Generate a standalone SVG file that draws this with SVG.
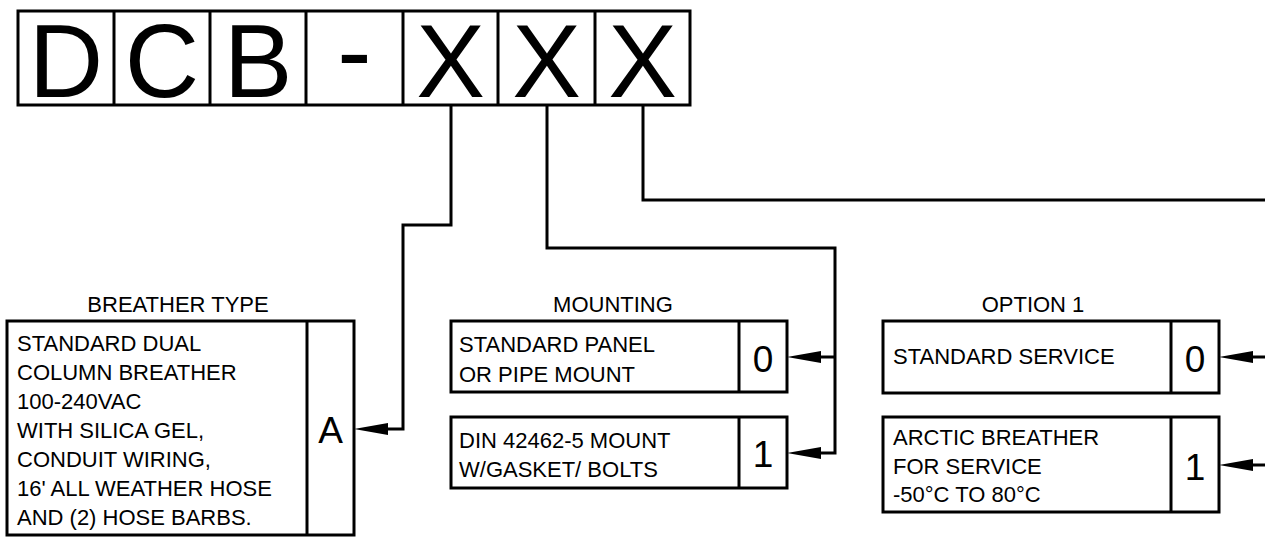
<svg xmlns="http://www.w3.org/2000/svg" xmlns:xlink="http://www.w3.org/1999/xlink" width="1265" height="537" viewBox="0 0 1265 537">
<style>
.box{fill:#fff;stroke:#000;stroke-width:3}
.div{stroke:#000;stroke-width:3}
.conn{fill:none;stroke:#000;stroke-width:3;stroke-linejoin:miter}
text{font-family:"Liberation Sans",Arial,sans-serif;fill:#000}
.big{font-size:103px;text-anchor:middle}
.t{font-size:22px}
.lbl{font-size:22px;text-anchor:middle}
.code{font-size:37px;text-anchor:middle}
</style>
<defs>
<path id="ah" d="M0,0 L34,-6 L34,6 Z" fill="#000"/>
</defs>
<rect width="1265" height="537" fill="#fff"/>

<g id="partnumber">
<rect class="box" x="18" y="11" width="672" height="94"/>
<line class="div" x1="114" y1="11" x2="114" y2="105"/>
<line class="div" x1="210" y1="11" x2="210" y2="105"/>
<line class="div" x1="306" y1="11" x2="306" y2="105"/>
<line class="div" x1="403" y1="11" x2="403" y2="105"/>
<line class="div" x1="498" y1="11" x2="498" y2="105"/>
<line class="div" x1="595" y1="11" x2="595" y2="105"/>
<text class="big" x="66" y="97">D</text>
<text class="big" x="162" y="97">C</text>
<text class="big" x="258" y="97">B</text>
<text class="big" x="354.5" y="87">-</text>
<text class="big" x="450.5" y="97">X</text>
<text class="big" x="546.5" y="97">X</text>
<text class="big" x="642.5" y="97">X</text>
</g>

<g id="connectors">
<path class="conn" d="M451,105 V225 H403 V429 H370"/>
<use xlink:href="#ah" x="354" y="429"/>
<path class="conn" d="M547,105 V248 H835 V453 H805"/>
<path class="conn" d="M835,357 H805"/>
<use xlink:href="#ah" x="787" y="357"/>
<use xlink:href="#ah" x="787" y="453"/>
<path class="conn" d="M643,105 V200 H1265"/>
<path class="conn" d="M1265,357 H1237"/>
<path class="conn" d="M1265,465 H1237"/>
<use xlink:href="#ah" x="1219" y="357"/>
<use xlink:href="#ah" x="1219" y="465"/>
</g>

<g id="breather-type">
<text class="lbl" x="178" y="312">BREATHER TYPE</text>
<rect class="box" x="7" y="321" width="347" height="214"/>
<line class="div" x1="307" y1="321" x2="307" y2="535"/>
<text class="t" x="17" y="351">STANDARD DUAL</text>
<text class="t" x="17" y="380">COLUMN BREATHER</text>
<text class="t" x="17" y="409">100-240VAC</text>
<text class="t" x="17" y="438">WITH SILICA GEL,</text>
<text class="t" x="17" y="467">CONDUIT WIRING,</text>
<text class="t" x="17" y="496">16' ALL WEATHER HOSE</text>
<text class="t" x="17" y="525">AND (2) HOSE BARBS.</text>
<text class="code" x="330.5" y="443">A</text>
</g>

<g id="mounting">
<text class="lbl" x="613" y="312">MOUNTING</text>
<g id="mounting-0">
<rect class="box" x="451" y="321" width="336" height="71"/>
<line class="div" x1="739" y1="321" x2="739" y2="392"/>
<text class="t" x="459" y="352">STANDARD PANEL</text>
<text class="t" x="459" y="382">OR PIPE MOUNT</text>
<text class="code" x="763" y="372">0</text>
</g>
<g id="mounting-1">
<rect class="box" x="451" y="417" width="336" height="71"/>
<line class="div" x1="739" y1="417" x2="739" y2="488"/>
<text class="t" x="459" y="448">DIN 42462-5 MOUNT</text>
<text class="t" x="459" y="477">W/GASKET/ BOLTS</text>
<text class="code" x="763" y="467">1</text>
</g>
</g>

<g id="option1">
<text class="lbl" x="1033" y="312">OPTION 1</text>
<g id="option1-0">
<rect class="box" x="883" y="321" width="336" height="72"/>
<line class="div" x1="1171" y1="321" x2="1171" y2="393"/>
<text class="t" x="893" y="364">STANDARD SERVICE</text>
<text class="code" x="1195" y="372">0</text>
</g>
<g id="option1-1">
<rect class="box" x="883" y="417" width="336" height="95"/>
<line class="div" x1="1171" y1="417" x2="1171" y2="512"/>
<text class="t" x="893" y="445">ARCTIC BREATHER</text>
<text class="t" x="893" y="474">FOR SERVICE</text>
<text class="t" x="893" y="502">-50°C TO 80°C</text>
<text class="code" x="1195" y="480">1</text>
</g>
</g>
</svg>
